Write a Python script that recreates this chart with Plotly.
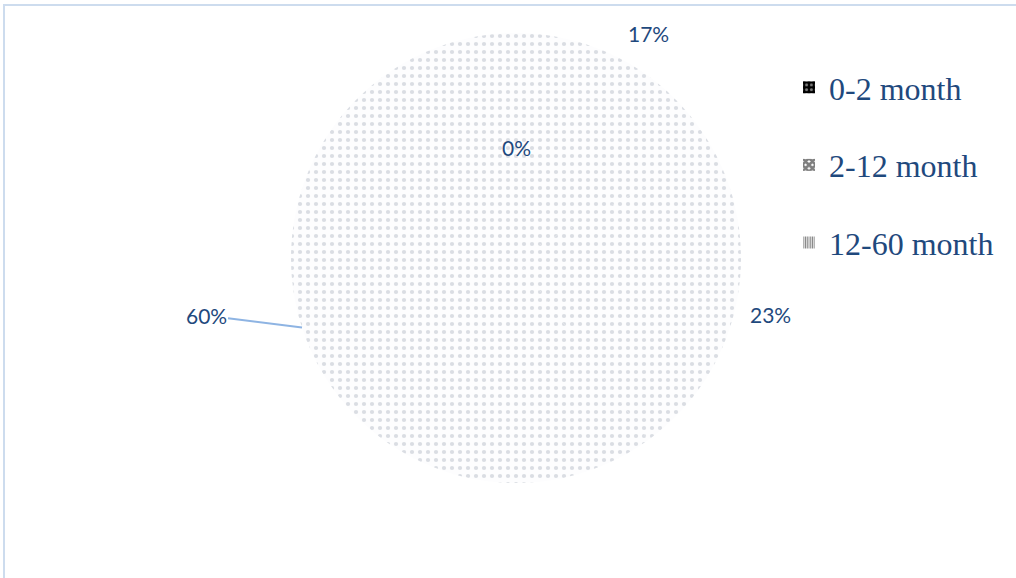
import math
import plotly.graph_objects as go

# Age groups and their share of cases (percent)
categories = ["0-2 month", "2-12 month", "12-60 month"]
shares = [17, 23, 60]
# Group shown only as a label (no legend entry)
unlisted_share = 0

W, H = 1016, 578
# Pie placement in pixels (centre and radius)
cx, cy, r = 516, 258, 225

label_font = dict(family="Lato, Open Sans, sans-serif", size=21, color="#1f497d")
legend_font = dict(family="Liberation Serif, Times New Roman, serif", size=32, color="#1f497d")

total = sum(shares) + unlisted_share
pct_text = [f"{round(v / total * 100)}%" for v in shares]


def px_to_paper(x, y):
    return x / W, 1 - y / H


fig = go.Figure()

fig.add_trace(go.Pie(
    labels=categories,
    values=shares,
    sort=False,
    direction="clockwise",
    rotation=0,
    domain=dict(x=[(cx - r) / W, (cx + r) / W], y=[1 - (cy + r) / H, 1 - (cy - r) / H]),
    marker=dict(
        colors=["#fdfdfe"] * 3,
        line=dict(width=0),
        pattern=dict(shape=".", fgcolor="#dadde3", bgcolor="#fdfdfe", size=8, solidity=0.22),
    ),
    textinfo="none",
    showlegend=False,
    hoverinfo="label+percent",
))

# Legend entries with the patterned swatches
swatches = [
    dict(shape=".", fgcolor="#ffffff", bgcolor="#000000", size=6, solidity=0.3),
    dict(shape="x", fgcolor="#000000", bgcolor="#ffffff", size=6, solidity=0.8),
    dict(shape="|", fgcolor="#000000", bgcolor="#ffffff", size=3, solidity=0.55),
]
for i, (name, pat) in enumerate(zip(categories, swatches)):
    fig.add_trace(go.Bar(
        x=[None], y=[None], name=name,
        marker=dict(color="#000000", pattern=pat, line=dict(width=0)),
        legendgroup=f"g{i}", showlegend=True,
    ))

# Percentage labels placed on each slice's mid-angle
cum = 0
for i, v in enumerate(shares):
    mid = math.radians((cum + v / 2) / total * 360)
    cum += v
    ex, ey = cx + r * math.sin(mid), cy - r * math.cos(mid)
    if i == 2:
        # largest slice: label pulled out with a leader line
        x, y = px_to_paper(ex, ey)
        fig.add_annotation(
            x=x, y=y, xref="paper", yref="paper",
            text=pct_text[i], font=label_font,
            showarrow=True, arrowhead=0, arrowwidth=2, arrowcolor="#8eb4e3",
            ax=-96, ay=-12, standoff=0,
        )
    else:
        lr = r + 36
        x, y = px_to_paper(cx + lr * math.sin(mid), cy - lr * math.cos(mid))
        fig.add_annotation(
            x=x, y=y, xref="paper", yref="paper",
            text=pct_text[i], font=label_font, showarrow=False,
            xanchor="center", yanchor="middle",
        )

# Label for the zero share group
x0, y0 = px_to_paper(cx, cy - r * 0.49)
fig.add_annotation(
    x=x0, y=y0, xref="paper", yref="paper",
    text=f"{round(unlisted_share / total * 100)}%", font=label_font,
    showarrow=False, xanchor="center", yanchor="middle",
)

# Chart frame
fig.add_shape(type="line", xref="paper", yref="paper",
              x0=4 / W, x1=4 / W, y0=0, y1=1 - 4 / H,
              line=dict(color="#cddcee", width=2))
fig.add_shape(type="line", xref="paper", yref="paper",
              x0=4 / W, x1=1, y0=1 - 5 / H, y1=1 - 5 / H,
              line=dict(color="#cddcee", width=2))

fig.update_layout(
    width=W, height=H,
    margin=dict(l=0, r=0, t=0, b=0),
    paper_bgcolor="white", plot_bgcolor="white",
    xaxis=dict(visible=False), yaxis=dict(visible=False),
    legend=dict(
        x=789 / W, y=1 - 60 / H, xanchor="left", yanchor="top",
        font=legend_font, traceorder="grouped", tracegroupgap=33,
        itemwidth=30, bgcolor="rgba(0,0,0,0)",
    ),
)

fig.write_html("out.html")
